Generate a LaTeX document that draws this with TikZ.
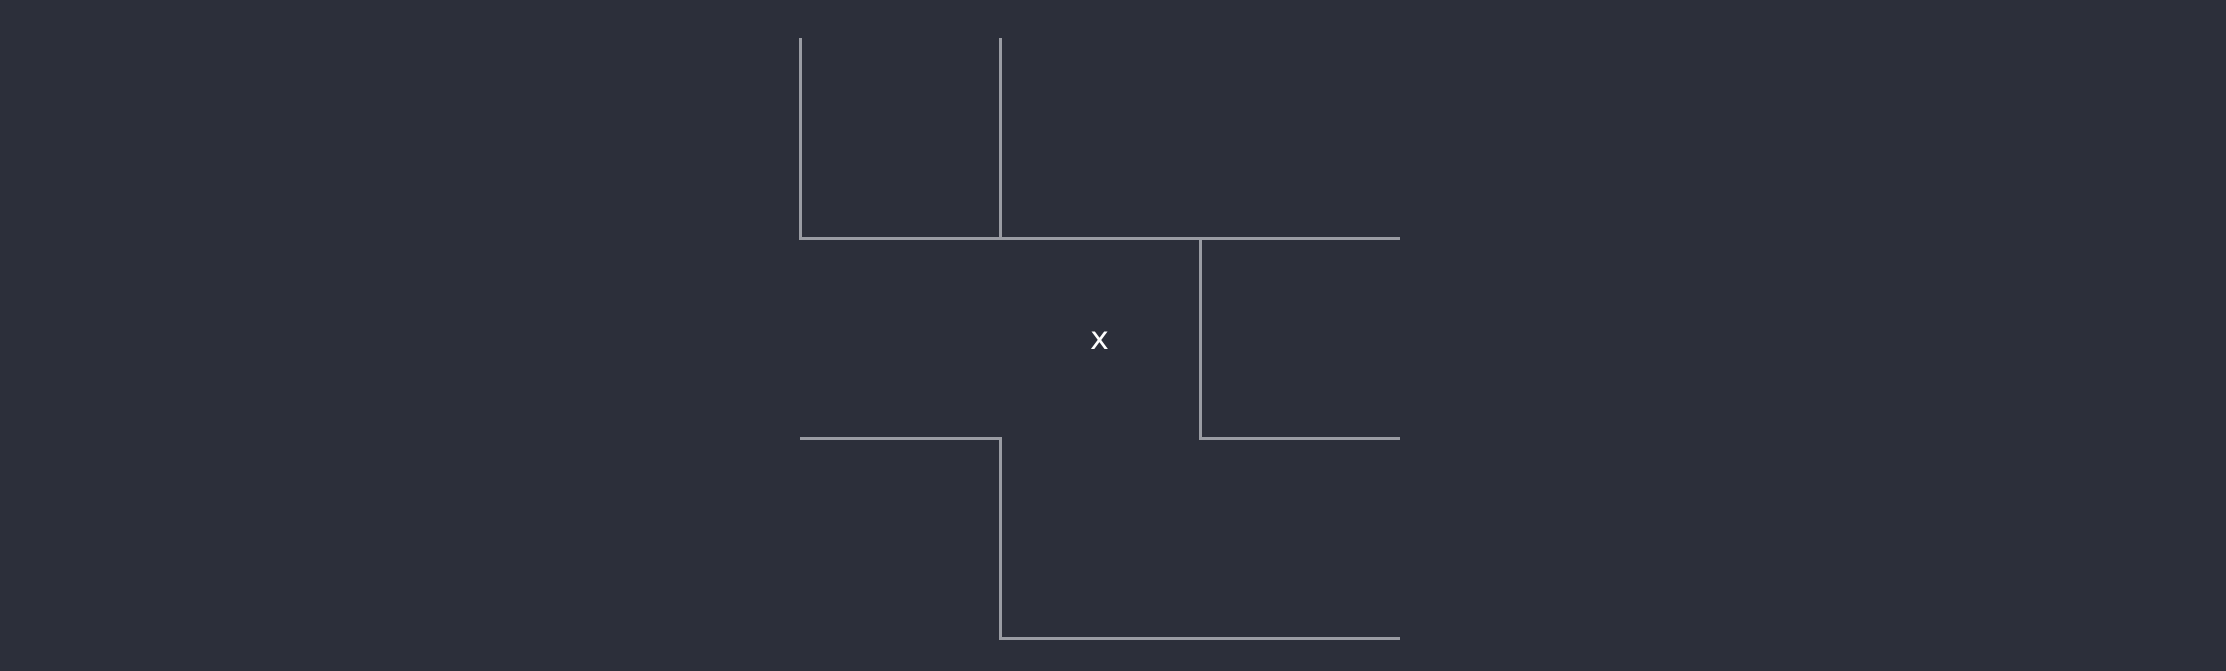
\documentclass[tikz,border=0pt]{standalone}
\usepackage{fontspec}
\setmainfont{DejaVu Sans}
\definecolor{bgc}{HTML}{2C2F3A}
\definecolor{wallc}{HTML}{9A9CA3}
\begin{document}
\begin{tikzpicture}[x=1pt,y=-1pt,
  wall/.style={draw=wallc,line width=3pt,line join=miter},
  lbl/.style={text=white,font=\fontsize{32}{36}\selectfont,inner sep=0pt,anchor=base}]
\useasboundingbox (0,0) rectangle (2226,670);
\fill[bgc] (-5,-5) rectangle (2231,675);
\coordinate (a1) at (800,38);
\coordinate (a2) at (800,238);
\coordinate (a3) at (1400,238);
\coordinate (b1) at (1000,38);
\coordinate (b2) at (1000,238);
\coordinate (c1) at (1200,238);
\coordinate (c2) at (1200,438);
\coordinate (c3) at (1400,438);
\coordinate (d1) at (800,438);
\coordinate (d2) at (1000,438);
\coordinate (d3) at (1000,638);
\coordinate (d4) at (1400,638);
\draw[wall] (a1) -- (a2) -- (a3);
\draw[wall] (b1) -- (b2);
\draw[wall] (c1) -- (c2) -- (c3);
\draw[wall] (d1) -- (d2) -- (d3) -- (d4);
\node[lbl] (x) at (1100,349) {x};
\end{tikzpicture}
\end{document}
